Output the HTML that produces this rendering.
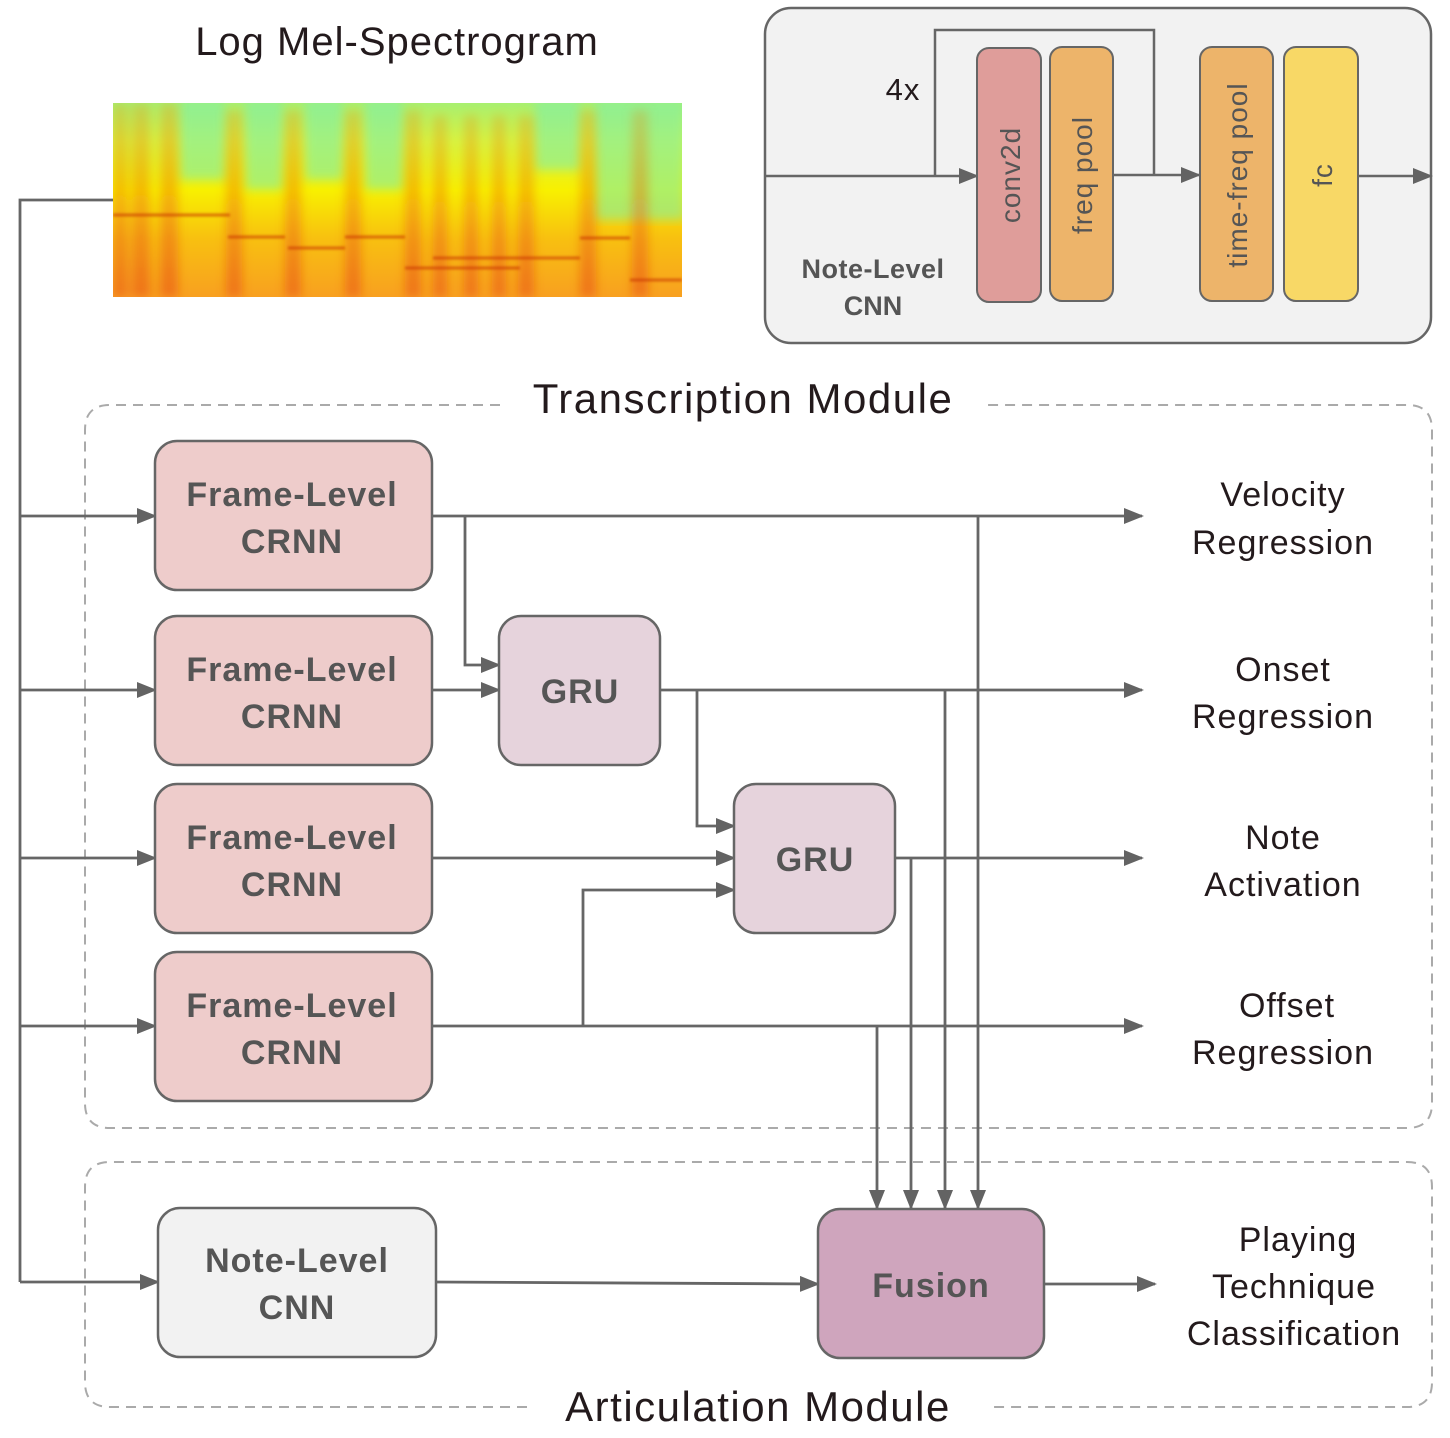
<!DOCTYPE html>
<html><head><meta charset="utf-8"><style>
html,body{margin:0;padding:0;background:#fff;}
svg{display:block;}
text{font-family:"Liberation Sans",sans-serif;}
.bx{font-weight:bold;fill:#555;font-size:34px;letter-spacing:1px;}
.lb{fill:#231a1c;font-size:34px;letter-spacing:1px;}
</style></head><body>
<svg width="1450" height="1438" viewBox="0 0 1450 1438" xmlns="http://www.w3.org/2000/svg">
<defs>
<marker id="a" markerUnits="userSpaceOnUse" markerWidth="20" markerHeight="16" refX="18" refY="8" orient="auto"><path d="M0,0 L20,8 L0,16 Z" fill="#636363"/></marker>
<linearGradient id="sg" x1="0" y1="0" x2="0" y2="1">
<stop offset="0" stop-color="#a8f070"/><stop offset="0.2" stop-color="#d8f440"/><stop offset="0.45" stop-color="#f8f000"/><stop offset="0.7" stop-color="#f8c010"/><stop offset="1" stop-color="#f8a020"/></linearGradient>
<linearGradient id="st" x1="0" y1="0" x2="0" y2="1">
<stop offset="0" stop-color="#f08010" stop-opacity="0.25"/><stop offset="1" stop-color="#e85010" stop-opacity="0.6"/></linearGradient>
<filter id="bl" x="-5%" y="-5%" width="110%" height="110%"><feGaussianBlur stdDeviation="5"/></filter>
<filter id="bl2"><feGaussianBlur stdDeviation="1.2"/></filter>
<clipPath id="cp"><rect x="113" y="103" width="569" height="194"/></clipPath>
</defs>
<!-- spectrogram -->
<g clip-path="url(#cp)">
<rect x="113" y="103" width="569" height="194" fill="url(#sg)"/>
<g fill="#80f0a8" opacity="0.6" filter="url(#bl)">
<rect x="180" y="100" width="45" height="80"/><rect x="245" y="100" width="38" height="90"/><rect x="305" y="100" width="38" height="80"/><rect x="365" y="100" width="38" height="90"/><rect x="595" y="100" width="90" height="120"/><rect x="535" y="100" width="45" height="70"/>
</g>
<g fill="url(#st)" filter="url(#bl)">
<rect x="113" y="103" width="14" height="194"/><rect x="132" y="103" width="18" height="194"/><rect x="160" y="103" width="18" height="194"/><rect x="226" y="110" width="16" height="187"/><rect x="285" y="110" width="16" height="187"/><rect x="345" y="110" width="16" height="187"/><rect x="405" y="110" width="16" height="187"/><rect x="433" y="115" width="14" height="182"/><rect x="464" y="115" width="14" height="182"/><rect x="492" y="115" width="14" height="182"/><rect x="518" y="115" width="16" height="182"/><rect x="580" y="110" width="16" height="187"/><rect x="632" y="110" width="16" height="187"/>
</g>
<g stroke="#c83000" stroke-width="3" opacity="0.6" filter="url(#bl2)">
<line x1="113" y1="215" x2="230" y2="215"/><line x1="228" y1="237" x2="285" y2="237"/><line x1="345" y1="237" x2="405" y2="237"/><line x1="288" y1="248" x2="345" y2="248"/><line x1="433" y1="258" x2="580" y2="258"/><line x1="580" y1="238" x2="630" y2="238"/><line x1="630" y1="280" x2="682" y2="280"/><line x1="405" y1="268" x2="520" y2="268"/>
</g>
</g>
<text x="397" y="55" text-anchor="middle" class="lb" style="font-size:40px">Log Mel-Spectrogram</text>

<!-- top-right box -->
<rect x="765" y="8" width="666" height="335" rx="26" fill="#f2f2f2" stroke="#666" stroke-width="2.5"/>
<g stroke="#666" stroke-width="2.5" fill="none">
<line x1="765" y1="176" x2="977" y2="176" marker-end="url(#a)"/>
<polyline points="935,176 935,30 1154,30 1154,176"/>
<line x1="1113" y1="175" x2="1199" y2="175" marker-end="url(#a)"/>
<line x1="1358" y1="176" x2="1431" y2="176" marker-end="url(#a)"/>
</g>
<rect x="977" y="48" width="64" height="254" rx="12" fill="#df9d9a" stroke="#666" stroke-width="2"/>
<rect x="1050" y="47" width="63" height="254" rx="12" fill="#edb46a" stroke="#666" stroke-width="2"/>
<rect x="1200" y="47" width="73" height="254" rx="12" fill="#edb46a" stroke="#666" stroke-width="2"/>
<rect x="1284" y="47" width="74" height="254" rx="12" fill="#f8d866" stroke="#666" stroke-width="2"/>
<g fill="#555" font-size="28" letter-spacing="1">
<text transform="translate(1020,175) rotate(-90)" text-anchor="middle">conv2d</text>
<text transform="translate(1092,175) rotate(-90)" text-anchor="middle">freq pool</text>
<text transform="translate(1247,175) rotate(-90)" text-anchor="middle">time-freq pool</text>
<text transform="translate(1332,175) rotate(-90)" text-anchor="middle">fc</text>
</g>
<text x="903" y="100" text-anchor="middle" class="lb" style="font-size:31px">4x</text>
<text x="873" y="278" text-anchor="middle" style="font-size:27px;font-weight:bold;fill:#555;letter-spacing:0.5px">Note-Level</text>
<text x="873" y="315" text-anchor="middle" style="font-size:27px;font-weight:bold;fill:#555">CNN</text>

<!-- dashed modules -->
<g fill="none" stroke="#aaa" stroke-width="2" stroke-dasharray="10,7">
<path d="M500,405 L110,405 Q85,405 85,430 L85,1103 Q85,1128 110,1128 L1407,1128 Q1432,1128 1432,1103 L1432,430 Q1432,405 1407,405 L985,405"/>
<path d="M527,1407 L110,1407 Q85,1407 85,1382 L85,1187 Q85,1162 110,1162 L1407,1162 Q1432,1162 1432,1187 L1432,1382 Q1432,1407 1407,1407 L990,1407"/>
</g>
<text x="743" y="413" text-anchor="middle" class="lb" style="font-size:42px;letter-spacing:1.5px">Transcription Module</text>
<text x="758" y="1421" text-anchor="middle" class="lb" style="font-size:42px;letter-spacing:1.5px">Articulation Module</text>

<!-- connectors -->
<g stroke="#666" stroke-width="2.8" fill="none">
<polyline points="113,200 20,200 20,1282"/>
<line x1="20" y1="516" x2="155" y2="516" marker-end="url(#a)"/>
<line x1="20" y1="690" x2="155" y2="690" marker-end="url(#a)"/>
<line x1="20" y1="858" x2="155" y2="858" marker-end="url(#a)"/>
<line x1="20" y1="1026" x2="155" y2="1026" marker-end="url(#a)"/>
<line x1="20" y1="1282" x2="158" y2="1282" marker-end="url(#a)"/>
<line x1="432" y1="516" x2="1142" y2="516" marker-end="url(#a)"/>
<polyline points="465,516 465,665 499,665" marker-end="url(#a)"/>
<line x1="432" y1="690" x2="499" y2="690" marker-end="url(#a)"/>
<line x1="660" y1="690" x2="1142" y2="690" marker-end="url(#a)"/>
<polyline points="697,690 697,826 734,826" marker-end="url(#a)"/>
<line x1="432" y1="858" x2="734" y2="858" marker-end="url(#a)"/>
<polyline points="583,1026 583,890 734,890" marker-end="url(#a)"/>
<line x1="895" y1="858" x2="1142" y2="858" marker-end="url(#a)"/>
<line x1="432" y1="1026" x2="1142" y2="1026" marker-end="url(#a)"/>
<line x1="978" y1="516" x2="978" y2="1208" marker-end="url(#a)"/>
<line x1="945" y1="690" x2="945" y2="1208" marker-end="url(#a)"/>
<line x1="911" y1="858" x2="911" y2="1208" marker-end="url(#a)"/>
<line x1="877" y1="1026" x2="877" y2="1208" marker-end="url(#a)"/>
<line x1="436" y1="1282" x2="818" y2="1284" marker-end="url(#a)"/>
<line x1="1044" y1="1284" x2="1155" y2="1284" marker-end="url(#a)"/>
</g>

<!-- boxes -->
<g stroke="#666" stroke-width="2.5">
<rect x="155" y="441" width="277" height="149" rx="22" fill="#eecccb"/>
<rect x="155" y="616" width="277" height="149" rx="22" fill="#eecccb"/>
<rect x="155" y="784" width="277" height="149" rx="22" fill="#eecccb"/>
<rect x="155" y="952" width="277" height="149" rx="22" fill="#eecccb"/>
<rect x="499" y="616" width="161" height="149" rx="22" fill="#e6d3dc"/>
<rect x="734" y="784" width="161" height="149" rx="22" fill="#e6d3dc"/>
<rect x="158" y="1208" width="278" height="149" rx="22" fill="#f2f2f2"/>
<rect x="818" y="1209" width="226" height="149" rx="22" fill="#cfa5bd"/>
</g>
<g class="bx" text-anchor="middle">
<text x="292" y="506">Frame-Level</text><text x="292" y="553">CRNN</text>
<text x="292" y="681">Frame-Level</text><text x="292" y="728">CRNN</text>
<text x="292" y="849">Frame-Level</text><text x="292" y="896">CRNN</text>
<text x="292" y="1017">Frame-Level</text><text x="292" y="1064">CRNN</text>
<text x="580" y="703">GRU</text>
<text x="815" y="871">GRU</text>
<text x="297" y="1272">Note-Level</text><text x="297" y="1319">CNN</text>
<text x="931" y="1297">Fusion</text>
</g>
<g class="lb" text-anchor="middle">
<text x="1283" y="506">Velocity</text><text x="1283" y="554">Regression</text>
<text x="1283" y="681">Onset</text><text x="1283" y="728">Regression</text>
<text x="1283" y="849">Note</text><text x="1283" y="896">Activation</text>
<text x="1287" y="1017">Offset</text><text x="1283" y="1064">Regression</text>
<text x="1298" y="1251">Playing</text><text x="1294" y="1298">Technique</text><text x="1294" y="1345">Classification</text>
</g>
</svg>
</body></html>
